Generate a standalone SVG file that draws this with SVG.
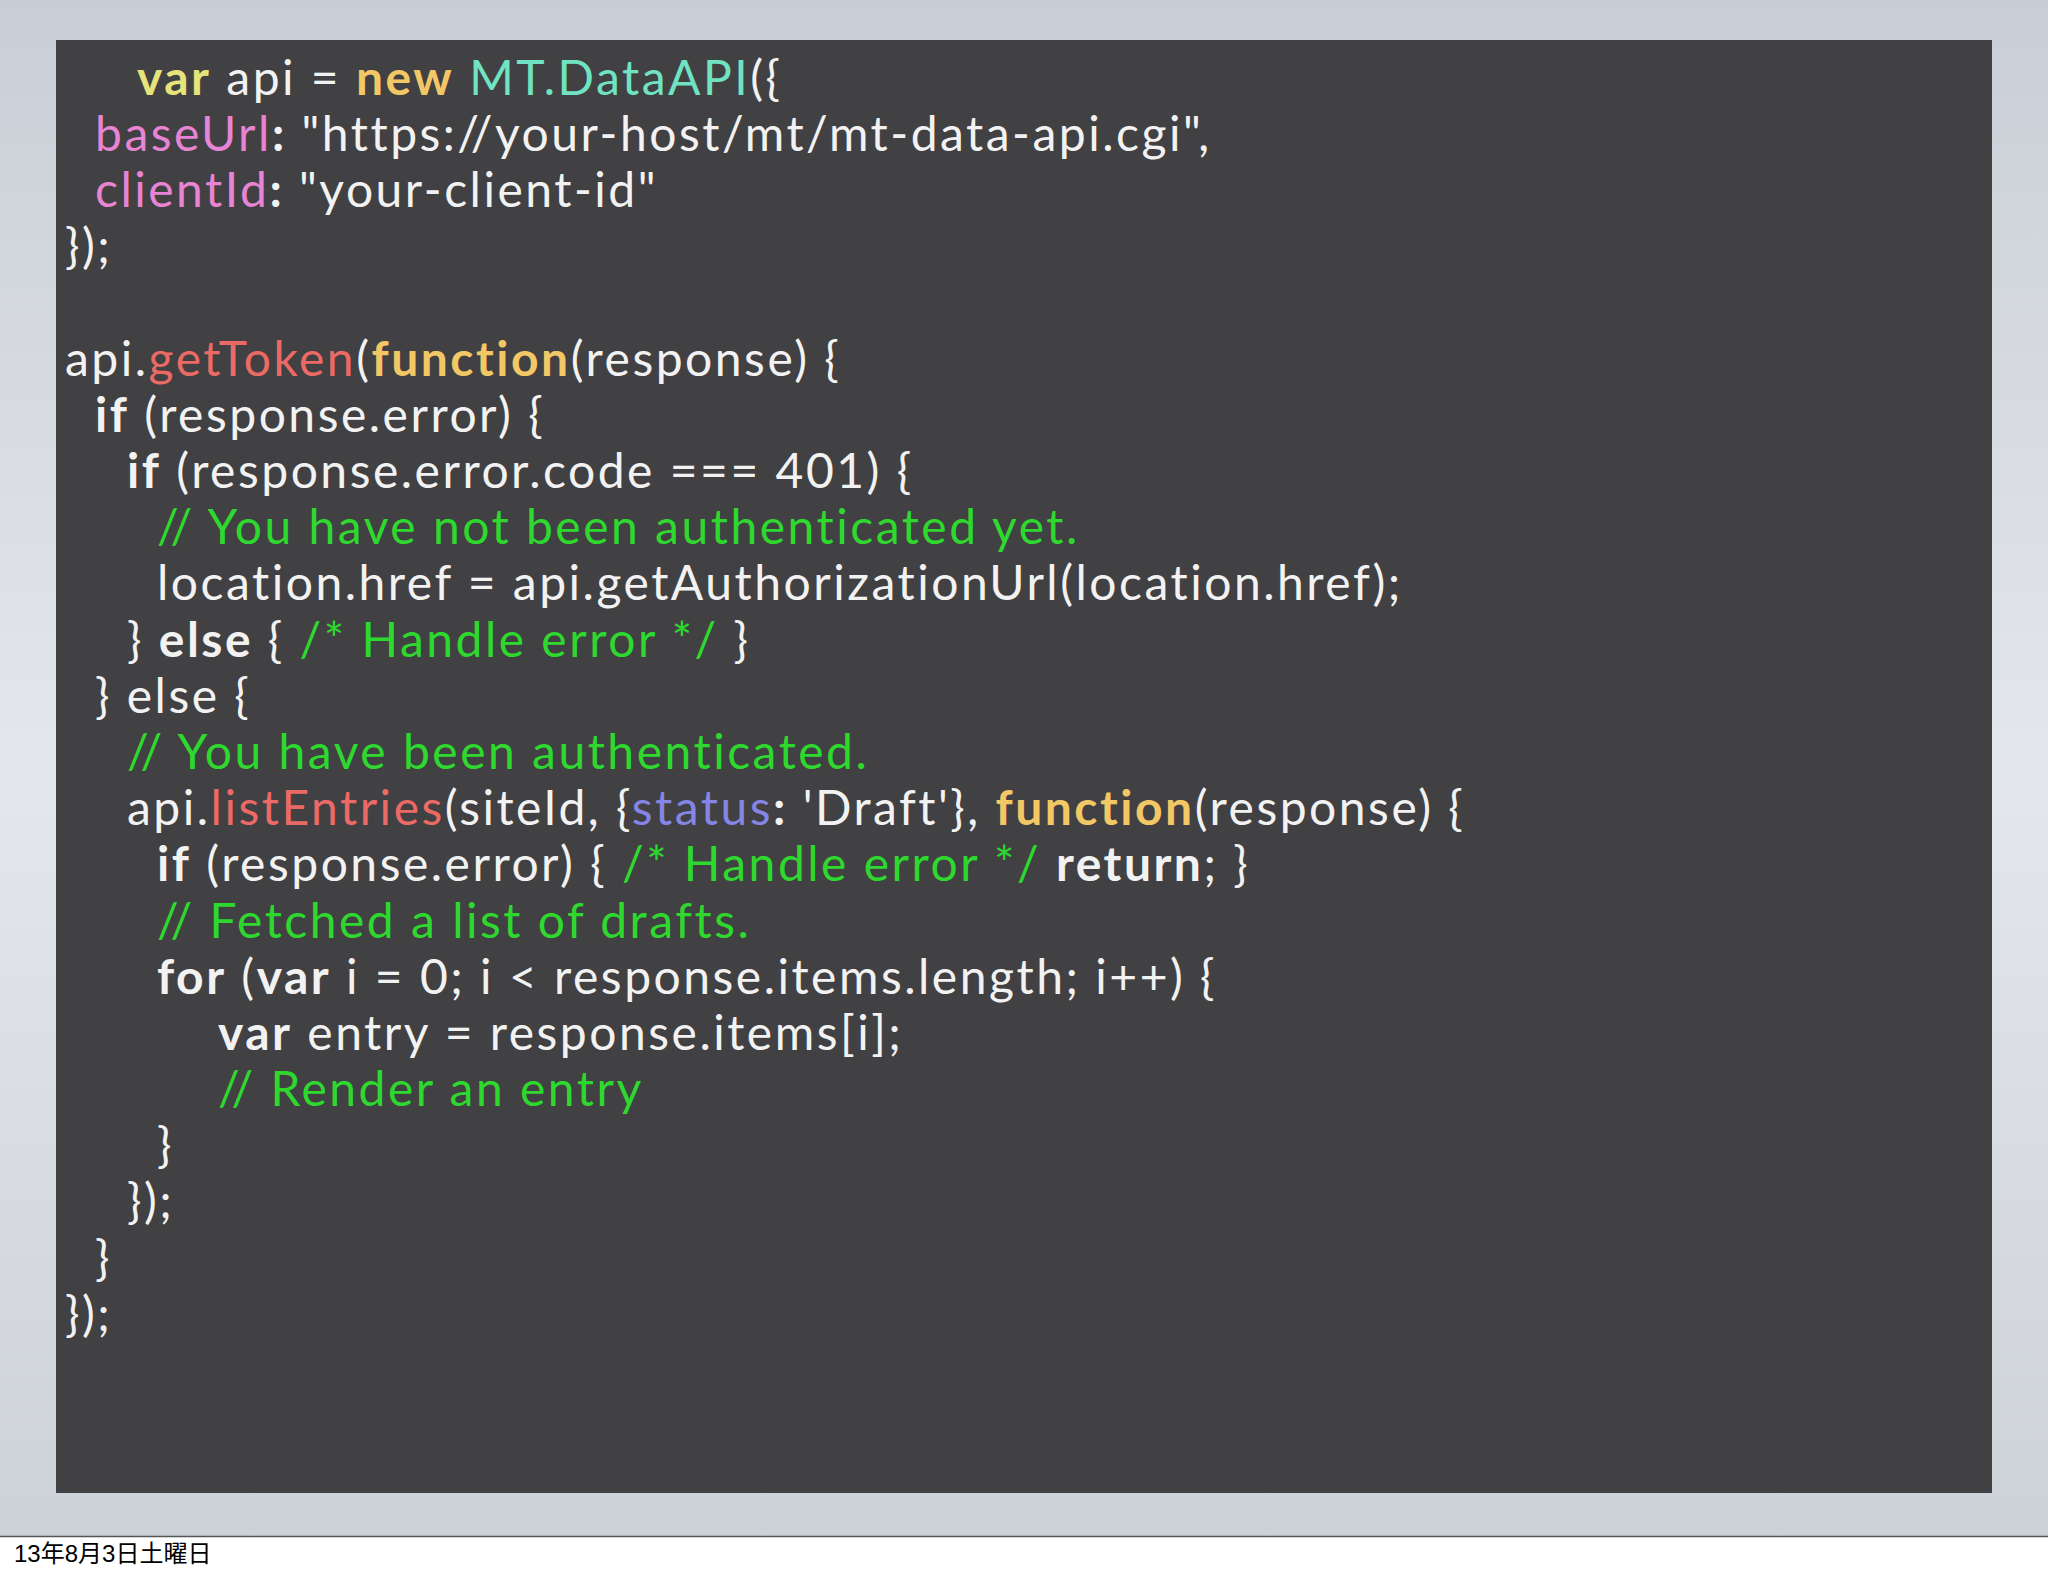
<svg xmlns="http://www.w3.org/2000/svg" width="2048" height="1576" viewBox="0 0 2048 1576">
<defs>
<linearGradient id="bg" x1="0" y1="0" x2="0" y2="1"><stop offset="0" stop-color="#c9ced6"/><stop offset="0.5" stop-color="#e4e7eb"/><stop offset="1" stop-color="#cdd2d8"/></linearGradient>
</defs>
<style>
text{font-family:Lato,"Open Sans",sans-serif;font-size:48px;fill:#f2f2f2;letter-spacing:2.5px}
.k{font-weight:bold}
.y{fill:#e6e37a;font-weight:bold}
.f{fill:#f2c766;font-weight:bold}
.c{fill:#6fe3c2}
.p{fill:#e784d4}
.r{fill:#ec6a66}
.g{fill:#2ed82e}
.b{fill:#8585e6}
text.d{font-family:"Liberation Sans","Noto Sans CJK JP",sans-serif;font-size:24px;fill:#000;letter-spacing:0}
</style>
<rect width="2048" height="1576" fill="#fff"/>
<rect width="2048" height="1536" fill="url(#bg)"/>
<line x1="0" y1="1536.5" x2="2048" y2="1536.5" stroke="#555" stroke-width="1.5"/>
<g id="code">
<rect x="56" y="40" width="1936" height="1453" fill="#414042"/>
<g xml:space="preserve">
<text x="137" y="95"><tspan class="y">var</tspan> api = <tspan class="f">new</tspan> <tspan class="c">MT.DataAPI</tspan>({</text>
<text x="95" y="151"><tspan class="p">baseUrl</tspan><tspan class="k">:</tspan>  "https://your-host/mt/mt-data-api.cgi",</text>
<text x="95" y="207"><tspan class="p">clientId</tspan><tspan class="k">:</tspan> "your-client-id"</text>
<text x="65" y="263">});</text>
<text x="65" y="376">api.<tspan class="r">getToken</tspan>(<tspan class="f">function</tspan>(response) {</text>
<text x="95" y="432"><tspan class="k">if</tspan> (response.error) {</text>
<text x="127" y="488"><tspan class="k">if</tspan> (response.error.code === 401) {</text>
<text x="157" y="544" class="g">// You have not been authenticated yet.</text>
<text x="157" y="600">location.href = api.getAuthorizationUrl(location.href);</text>
<text x="127" y="657">} <tspan class="k">else</tspan> { <tspan class="g">/* Handle error */</tspan> }</text>
<text x="95" y="713">} else {</text>
<text x="127" y="769" class="g">// You have been authenticated.</text>
<text x="127" y="825">api.<tspan class="r">listEntries</tspan>(siteId, {<tspan class="b">status</tspan><tspan class="k">:</tspan> 'Draft'}, <tspan class="f">function</tspan>(response) {</text>
<text x="157" y="881"><tspan class="k">if</tspan> (response.error) { <tspan class="g">/* Handle error */</tspan> <tspan class="k">return</tspan>; }</text>
<text x="157" y="938" class="g">// Fetched a list of drafts.</text>
<text x="157" y="994"><tspan class="k">for</tspan> (<tspan class="k">var</tspan> i = 0; i &lt; response.items.length; i++) {</text>
<text x="218" y="1050"><tspan class="k">var</tspan> entry = response.items[i];</text>
<text x="218" y="1106" class="g">// Render an entry</text>
<text x="157" y="1162">}</text>
<text x="127" y="1218">});</text>
<text x="95" y="1275">}</text>
<text x="65" y="1331">});</text>
</g>
</g>
<text class="d" x="14" y="1562">13年8月3日土曜日</text>
</svg>
